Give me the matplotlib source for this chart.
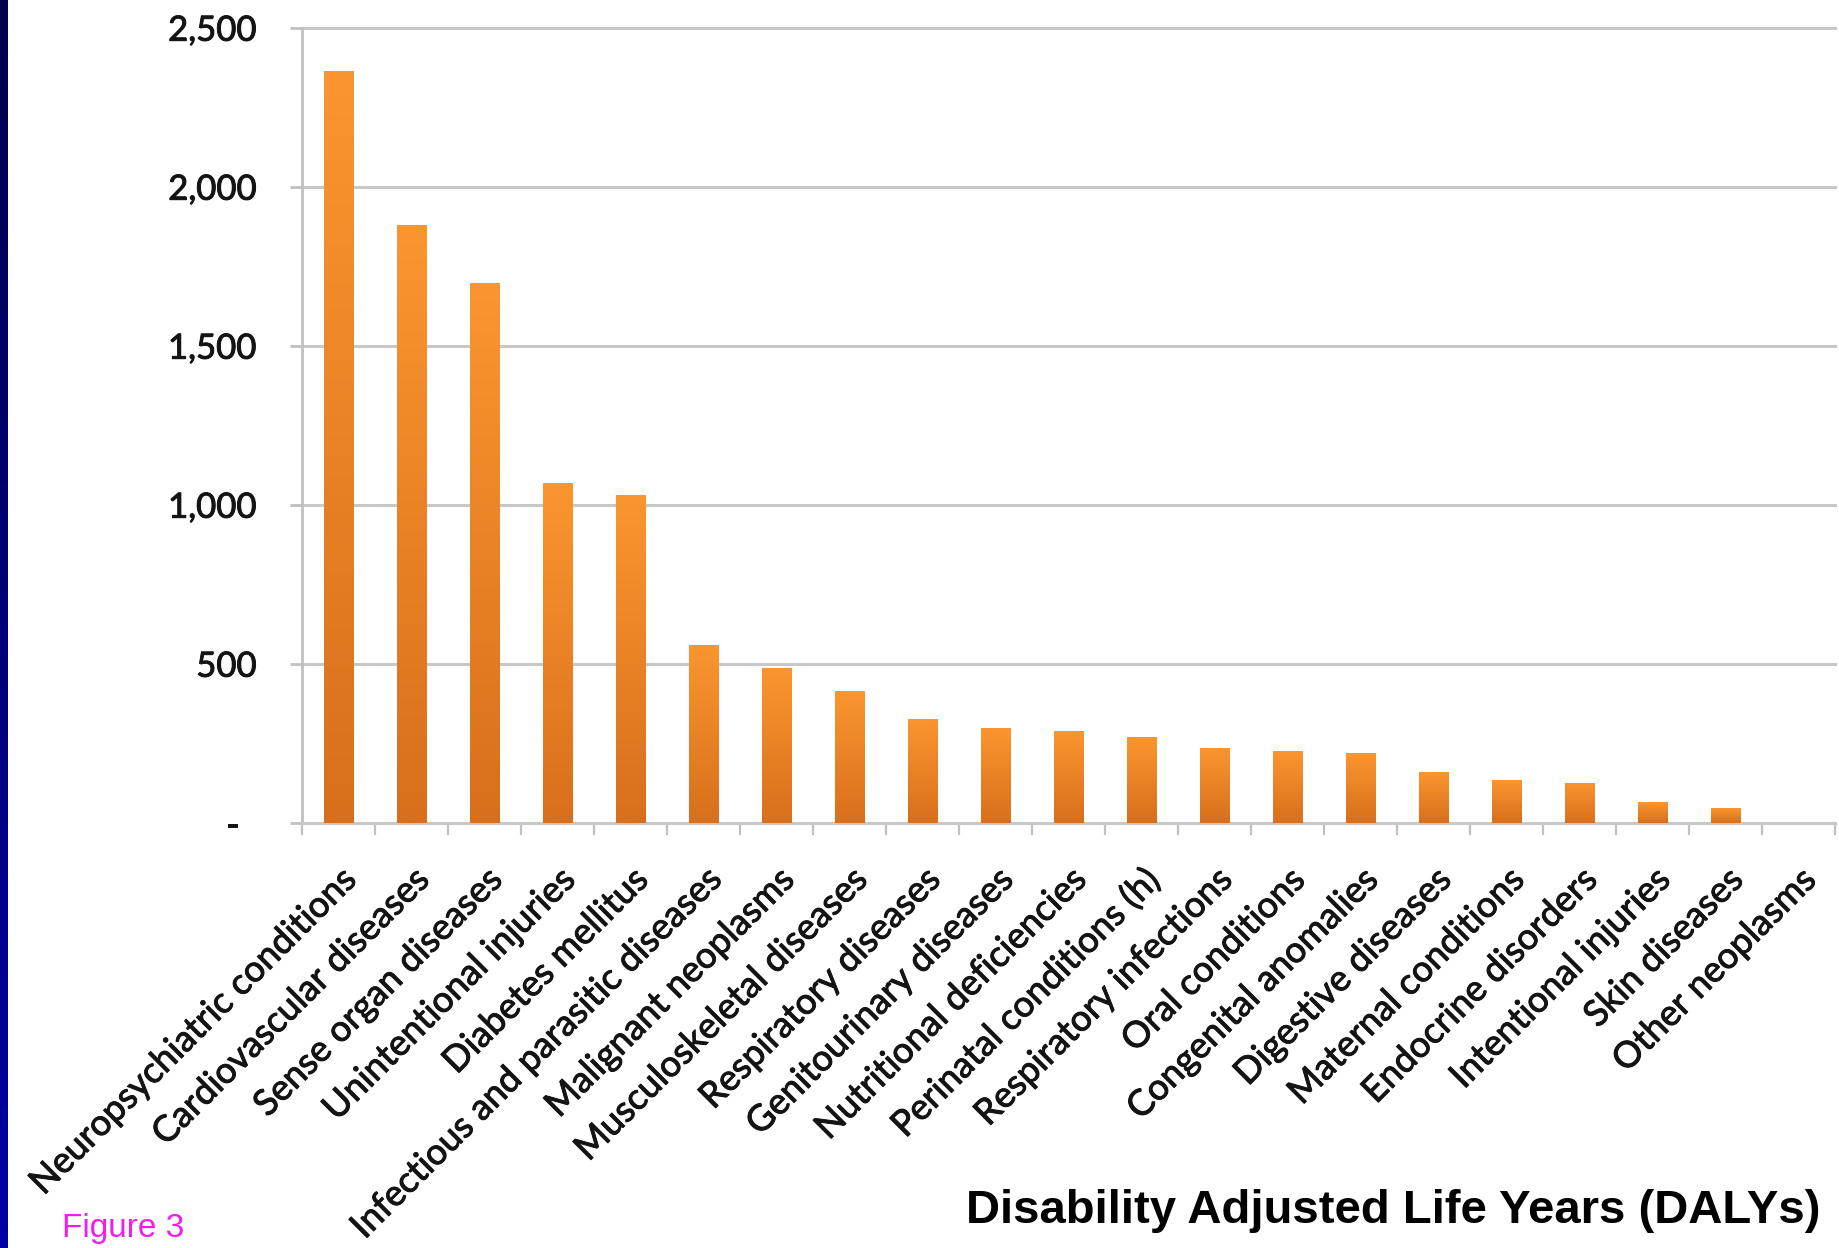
import numpy as np
import matplotlib
matplotlib.use("Agg")
import matplotlib.pyplot as plt
import matplotlib.patheffects as pe
from matplotlib.colors import LinearSegmentedColormap
from matplotlib.transforms import ScaledTranslation

# Disease burden by cause (DALYs, thousands)
categories = [
    "Neuropsychiatric conditions",
    "Cardiovascular diseases",
    "Sense organ diseases",
    "Unintentional injuries",
    "Diabetes mellitus",
    "Infectious and parasitic diseases",
    "Malignant neoplasms",
    "Musculoskeletal diseases",
    "Respiratory diseases",
    "Genitourinary diseases",
    "Nutritional deficiencies",
    "Perinatal conditions (h)",
    "Respiratory infections",
    "Oral conditions",
    "Congenital anomalies",
    "Digestive diseases",
    "Maternal conditions",
    "Endocrine disorders",
    "Intentional injuries",
    "Skin diseases",
    "Other neoplasms",
]
dalys = [2365, 1880, 1698, 1068, 1030, 558, 485, 415, 326, 297, 289,
         270, 236, 225, 218, 160, 134, 126, 65, 45, 0]
y_ticks = [0, 500, 1000, 1500, 2000, 2500]
y_tick_labels = ["-", "500", "1,000", "1,500", "2,000", "2,500"]

W, H = 1839, 1248
fig = plt.figure(figsize=(W / 100, H / 100), dpi=100)
fig.patch.set_facecolor("white")

# Slide-edge blue strip on the left
strip = fig.add_axes([0, 0, 8 / W, 1])
strip.imshow(np.linspace(0, 1, 256).reshape(-1, 1), aspect="auto",
             cmap=LinearSegmentedColormap.from_list("edge", ["#00004c", "#0000a4"]),
             extent=(0, 1, 0, 1), origin="upper")
strip.axis("off")

# Main chart area
ax_left, ax_right = 302, 1835
ax_top, ax_bottom = 27.7, 822.7
ax = fig.add_axes([ax_left / W, (H - ax_bottom) / H,
                   (ax_right - ax_left) / W, (ax_bottom - ax_top) / H])

x = np.arange(len(categories))
bars = ax.bar(x, dalys, width=0.41, color="#E9821F", linewidth=0, zorder=3)

# Vertical orange gradient inside each bar
bar_cmap = LinearSegmentedColormap.from_list("bar", ["#FA962F", "#D86F1C"])
grad = np.linspace(0, 1, 256).reshape(-1, 1)
for rect in bars:
    h = rect.get_height()
    if h <= 0:
        continue
    x0 = rect.get_x()
    im = ax.imshow(grad, extent=(x0, x0 + rect.get_width(), 0, h),
                   aspect="auto", cmap=bar_cmap, origin="upper", zorder=3.5)
    im.set_clip_path(rect)

ax.set_xlim(-0.5, len(categories) - 0.5)
ax.set_ylim(0, 2500)
ax.set_aspect("auto")

grid_color = "#c8c8c8"
ax.set_axisbelow(True)
ax.yaxis.grid(True, color=grid_color, linewidth=2.2)
for gl in ax.get_ygridlines():
    gl.set_clip_on(False)

for side in ("top", "right"):
    ax.spines[side].set_visible(False)
ax.spines["left"].set_color("#c0c0c0")
ax.spines["left"].set_linewidth(2.0)
ax.spines["bottom"].set_color(grid_color)
ax.spines["bottom"].set_linewidth(2.2)

text_color = "#141414"
heavy = [pe.withStroke(linewidth=0.7, foreground=text_color)]

# Y axis
ax.set_yticks(y_ticks)
ax.set_yticklabels(y_tick_labels, fontsize=25, family="Lato", color=text_color)
ax.tick_params(axis="y", length=8.6, width=2.0, color="#c0c0c0", pad=24)
for lbl in ax.get_yticklabels():
    lbl.set_path_effects(heavy)
zero_label = ax.get_yticklabels()[0]
zero_label.set_transform(zero_label.get_transform()
                         + ScaledTranslation(-0.18, 0, fig.dpi_scale_trans))

# X axis: tick marks between categories, labels at centres
ax.set_xticks(np.arange(-0.5, len(categories), 1.0))
ax.set_xticklabels([])
ax.tick_params(axis="x", which="major", length=8.6, width=1.6, color="#c0c0c0")
ax.set_xticks(x, minor=True)
ax.set_xticklabels(categories, minor=True, rotation=45, ha="right", va="top",
                   rotation_mode="anchor", fontsize=26, family="Lato",
                   color=text_color)
ax.tick_params(axis="x", which="minor", length=0, pad=29)
for lbl in ax.get_xticklabels(minor=True):
    lbl.set_path_effects(heavy)

fig.text(62 / W, (H - 1237) / H, "Figure 3", color="#EE1EEE", fontsize=24,
         family="Liberation Sans", ha="left", va="baseline")
fig.text(1820 / W, (H - 1223) / H, "Disability Adjusted Life Years (DALYs)",
         color="black", fontsize=34, weight="bold", family="Liberation Sans",
         ha="right", va="baseline")

fig.savefig("out.png", dpi=100)
